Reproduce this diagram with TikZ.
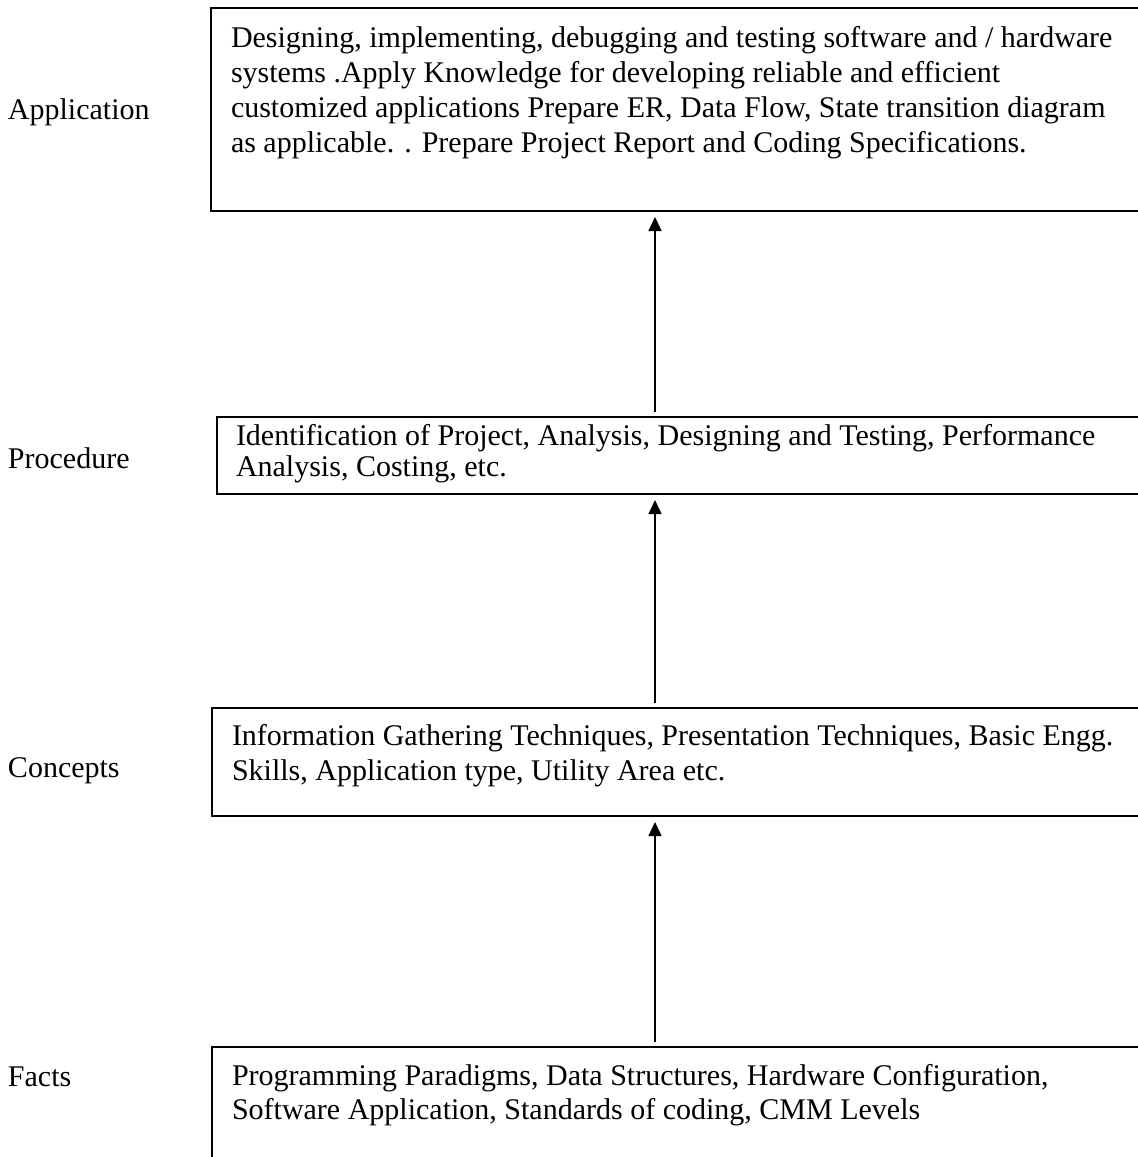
\documentclass[tikz,border=0pt]{standalone}
\usepackage{fontspec}
\setmainfont{Liberation Serif}
\usetikzlibrary{arrows.meta}
\newcommand{\boxlines}[2][35pt]{\vtop{\baselineskip=#1\relax #2}}
\begin{document}
\begin{tikzpicture}[x=1pt,y=-1pt,
  every node/.style={inner sep=0pt,outer sep=0pt,font=\fontsize{30}{35}\selectfont},
  levelbox/.style={draw,line width=1.8pt},
  boxtext/.style={anchor=base west},
  sidelabel/.style={anchor=base west},
  arr/.style={line width=1.5pt,-{Triangle[length=14pt,width=13pt]}}]
\useasboundingbox (0,0) rectangle (1138,1157);
\clip (0,0) rectangle (1138,1157);
% boxes
\node[levelbox,minimum width=940pt,minimum height=203pt,anchor=north west] (app) at (211,8) {};
\node[levelbox,minimum width=935pt,minimum height=77pt,anchor=north west] (proc) at (217,417) {};
\node[levelbox,minimum width=940pt,minimum height=108pt,anchor=north west] (conc) at (212,708) {};
\node[levelbox,minimum width=940pt,minimum height=130pt,anchor=north west] (facts) at (212,1047) {};
% texts
\node[boxtext] (apptext) at (231,47) {\boxlines{%
\hbox{Designing, implementing, debugging and testing software and / hardware}
\hbox{systems .Apply Knowledge for developing reliable and efficient}
\hbox{customized applications Prepare ER, Data Flow, State transition diagram}
\hbox{as applicable. . Prepare Project Report and Coding Specifications.}}};
\node[boxtext] (proctext) at (236,445) {\boxlines[31pt]{%
\hbox{Identification of Project, Analysis, Designing and Testing, Performance}
\hbox{Analysis, Costing, etc.}}};
\node[boxtext] (conctext) at (232,745) {\boxlines{%
\hbox{Information Gathering Techniques, Presentation Techniques, Basic Engg.}
\hbox{Skills, Application type, Utility Area etc.}}};
\node[boxtext] (factstext) at (232,1085) {\boxlines[34pt]{%
\hbox{Programming Paradigms, Data Structures, Hardware Configuration,}
\hbox{Software Application, Standards of coding, CMM Levels}}};
% side labels
\node[sidelabel] (lapp) at (8,119) {Application};
\node[sidelabel] (lproc) at (8,468) {Procedure};
\node[sidelabel] (lconc) at (8,777) {Concepts};
\node[sidelabel] (lfacts) at (8,1086) {Facts};
% arrows
\coordinate (ax) at (655,0);
\draw[arr] ([yshift=5pt]proc.north -| ax) -- ([yshift=-6pt]app.south -| ax);
\draw[arr] ([yshift=5pt]conc.north -| ax) -- ([yshift=-6pt]proc.south -| ax);
\draw[arr] ([yshift=5pt]facts.north -| ax) -- ([yshift=-6pt]conc.south -| ax);
\end{tikzpicture}
\end{document}
